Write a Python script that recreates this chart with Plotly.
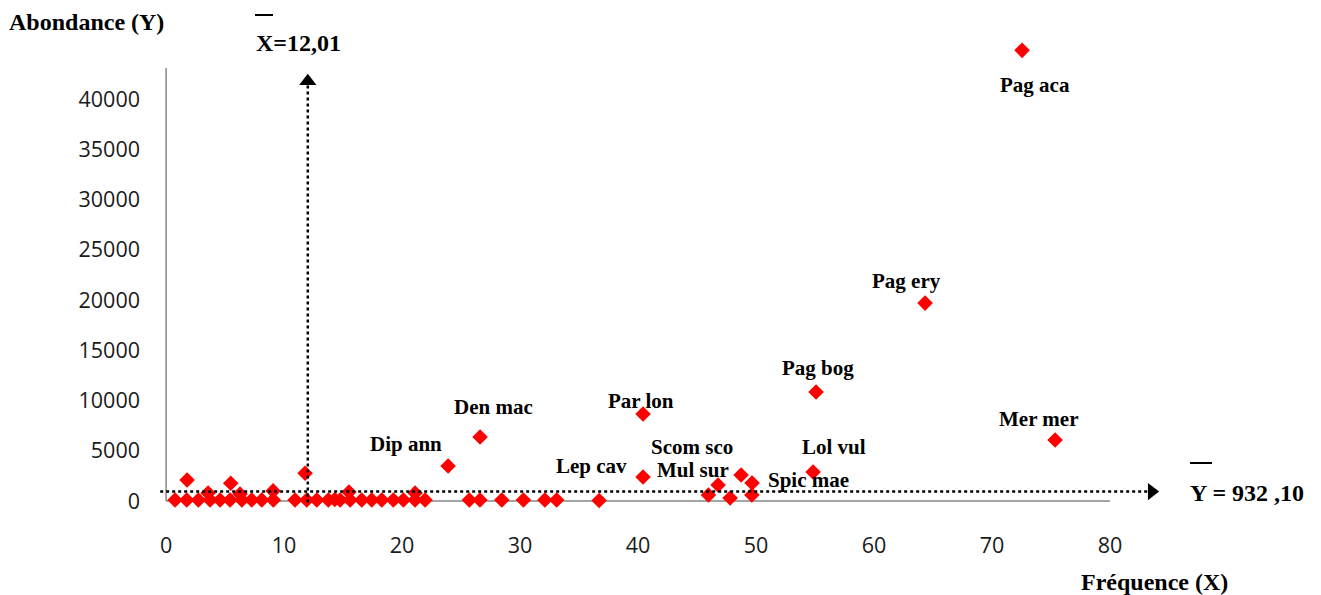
import plotly.graph_objects as go

# ---- data -------------------------------------------------------------
# Named species: frequency (%) and abundance
species = ["Pag aca", "Pag ery", "Pag bog", "Mer mer", "Lol vul", "Par lon",
           "Den mac", "Dip ann", "Lep cav", "Scom sco", "Mul sur", "Spic mae"]
species_freq = [72.54, 64.32, 55.08, 75.34, 54.83, 40.42,
                26.61, 23.90, 40.42, 48.73, 46.78, 49.66]
species_abund = [44870, 19700, 10850, 6070, 2890, 8660,
                 6370, 3480, 2390, 2590, 1590, 1790]

# Remaining (unlabelled) species
other_freq = [0.76, 1.75, 1.78, 2.74, 3.56, 3.73, 4.58, 5.42, 5.48, 6.27,
              6.42, 7.26, 8.11, 9.07, 9.09, 10.93, 11.78, 11.92, 12.77, 13.75,
              14.30, 14.75, 15.50, 15.60, 16.58, 17.43, 18.28, 19.26, 20.11, 21.10,
              21.10, 21.95, 25.70, 26.60, 28.45, 30.28, 32.10, 33.10, 36.70, 45.96,
              47.80, 49.64]
other_abund = [100, 100, 2090, 100, 800, 100, 100, 100, 1760, 700,
               100, 100, 100, 1000, 100, 100, 2760, 100, 100, 100,
               150, 100, 900, 100, 100, 100, 100, 100, 100, 800,
               100, 100, 100, 100, 100, 100, 100, 100, 50, 600,
               300, 600]

X_MEAN = 12.01
Y_MEAN = 932.10

x_ticks = [0, 10, 20, 30, 40, 50, 60, 70, 80]
y_ticks = [0, 5000, 10000, 15000, 20000, 25000, 30000, 35000, 40000]

# ---- styling ----------------------------------------------------------
# label offsets (pixels) relative to their marker
label_shift = {
    "Pag aca": (13, -35), "Pag ery": (-19, 22), "Pag bog": (2, 24),
    "Mer mer": (-17, 21), "Lol vul": (21, 25), "Par lon": (-2, 13),
    "Den mac": (13, 30), "Dip ann": (-42, 22), "Lep cav": (-52, 11),
    "Scom sco": (-49, 28), "Mul sur": (-25, 15), "Spic mae": (56, 3),
}

X_RANGE = [-0.6, 85.5]
Y_RANGE = [-800, 46000]
Y_AXIS_TOP = 43100        # visible extent of the vertical axis line
X_AXIS_END = 80
V_ARROW_TIP = 42600       # tip of the vertical mean arrow
H_ARROW_TIP = 84.2        # tip of the horizontal mean arrow

W, H = 1321, 595
ML, MR, MT, MB = 159, 146, 39, 86
PW, PH = W - ML - MR, H - MT - MB

def px_x(px):
    return (px - ML) / PW

def px_y(py):
    return (H - MB - py) / PH

serif = "Liberation Serif"
red = "#ff0000"
gray = "#868686"

fig = go.Figure()

fig.add_trace(go.Scatter(
    x=other_freq + species_freq, y=other_abund + species_abund,
    mode="markers", cliponaxis=False, hoverinfo="skip",
    marker=dict(symbol="diamond", size=12, color=red, line=dict(width=0)),
    showlegend=False))

# arrowheads of the mean lines
fig.add_trace(go.Scatter(
    x=[X_MEAN], y=[V_ARROW_TIP - 8 * (Y_RANGE[1] - Y_RANGE[0]) / PH],
    mode="markers", cliponaxis=False, hoverinfo="skip", showlegend=False,
    marker=dict(symbol="triangle-up", size=15, color="black")))
fig.add_trace(go.Scatter(
    x=[H_ARROW_TIP - 8 * (X_RANGE[1] - X_RANGE[0]) / PW], y=[Y_MEAN],
    mode="markers", cliponaxis=False, hoverinfo="skip", showlegend=False,
    marker=dict(symbol="triangle-right", size=15, color="black")))

shapes = [
    # axis lines
    dict(type="line", xref="x", yref="y", x0=0, x1=0, y0=0, y1=Y_AXIS_TOP,
         line=dict(color=gray, width=1.5), layer="below"),
    dict(type="line", xref="x", yref="y", x0=0, x1=X_AXIS_END, y0=0, y1=0,
         line=dict(color=gray, width=1.5), layer="below"),
    # mean lines
    dict(type="line", xref="x", yref="y", x0=X_MEAN, x1=X_MEAN, y0=-150,
         y1=V_ARROW_TIP - 10 * (Y_RANGE[1] - Y_RANGE[0]) / PH,
         line=dict(color="black", width=2.5, dash="dot"), layer="above"),
    dict(type="line", xref="x", yref="y", x0=-0.5,
         x1=H_ARROW_TIP - 10 * (X_RANGE[1] - X_RANGE[0]) / PW, y0=Y_MEAN, y1=Y_MEAN,
         line=dict(color="black", width=2.5, dash="dot"), layer="above"),
    # bars over the mean symbols
    dict(type="line", xref="paper", yref="paper", x0=px_x(255), x1=px_x(273),
         y0=px_y(15), y1=px_y(15), line=dict(color="black", width=2)),
    dict(type="line", xref="paper", yref="paper", x0=px_x(1190), x1=px_x(1212),
         y0=px_y(463), y1=px_y(463), line=dict(color="black", width=2)),
]

annotations = []
for name, fx, fy in zip(species, species_freq, species_abund):
    dx, dy = label_shift[name]
    annotations.append(dict(
        x=fx, y=fy, xref="x", yref="y", text=f"<b>{name}</b>", showarrow=False,
        xshift=dx, yshift=dy, font=dict(family=serif, size=21, color="black")))

title_font = dict(family=serif, size=24, color="black")
annotations += [
    dict(x=px_x(7), y=px_y(22), xref="paper", yref="paper", xanchor="left",
         yanchor="middle", text="<b>Abondance (Y)</b>", showarrow=False, font=title_font),
    dict(x=px_x(1079), y=px_y(582), xref="paper", yref="paper", xanchor="left",
         yanchor="middle", text="<b>Fréquence (X)</b>", showarrow=False, font=title_font),
    dict(x=px_x(254), y=px_y(43), xref="paper", yref="paper", xanchor="left",
         yanchor="middle", text=f"<b>X={X_MEAN:.2f}</b>".replace(".", ","),
         showarrow=False, font=title_font),
    dict(x=px_x(1188), y=px_y(493), xref="paper", yref="paper", xanchor="left",
         yanchor="middle", text="<b>Y = %d ,%02d</b>" % (int(Y_MEAN), round(Y_MEAN % 1 * 100)),
         showarrow=False, font=title_font),
]

tick_font = dict(family="Open Sans", size=21.5, color="#1a1a1a")

fig.update_layout(
    width=W, height=H,
    margin=dict(l=ML, r=MR, t=MT, b=MB, pad=0),
    paper_bgcolor="white", plot_bgcolor="white",
    showlegend=False,
    shapes=shapes, annotations=annotations,
    xaxis=dict(range=X_RANGE, tickvals=x_ticks, ticktext=[str(v) for v in x_ticks],
               showgrid=False, zeroline=False, showline=False, ticks="",
               tickfont=tick_font, ticklabelstandoff=21, fixedrange=True),
    yaxis=dict(range=Y_RANGE, tickvals=y_ticks, ticktext=[str(v) for v in y_ticks],
               showgrid=False, zeroline=False, showline=False, ticks="",
               tickfont=tick_font, ticklabelstandoff=18, fixedrange=True),
)

fig.write_html("out.html")
